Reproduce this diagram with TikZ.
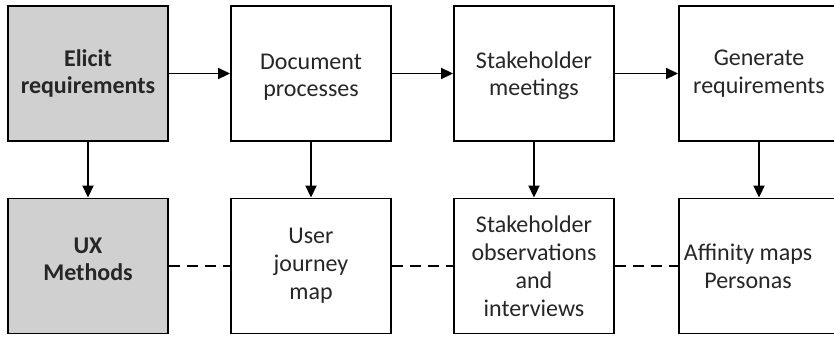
\documentclass[tikz,border=0pt]{standalone}
\usepackage{fontspec}
\setmainfont{Carlito}
\usetikzlibrary{arrows.meta,positioning}
\definecolor{boxgray}{HTML}{D0D0D0}
\tikzset{
  box/.style={draw=black, line width=1.9bp, minimum width=160bp, minimum height=135bp,
    inner sep=0pt, align=center, text=black!85, font=\fontsize{24bp}{28bp}\selectfont},
  graybox/.style={box, fill=boxgray, font=\fontsize{24bp}{27bp}\selectfont\bfseries},
  lbl/.style={align=center, text=black!85, inner sep=0pt},
  arr/.style={line width=1.9bp, -{Triangle[length=12bp,width=11bp]}},
  dashline/.style={line width=1.9bp, dash pattern=on 11bp off 7bp}
}
\begin{document}
\begin{tikzpicture}[x=1bp,y=-1bp]
\useasboundingbox (0,0) rectangle (834,336);
\clip (0,0) rectangle (834,336);
\node[graybox] (elicit) at (88,73.5) {Elicit\\requirements};
\node[box] (doc) at (311,73.5) {};
\node[lbl, font=\fontsize{24bp}{27bp}\selectfont] (doctext) at (311,77) {Document\\processes};
\node[box] (meet) at (534,73.5) {};
\node[lbl, font=\fontsize{24bp}{27bp}\selectfont] (meettext) at (534,76) {Stakeholder\\meetings};
\node[box] (gen) at (759,73.5) {Generate\\requirements};
\node[graybox] (ux) at (88,266) {};
\node[lbl, font=\fontsize{24bp}{27bp}\selectfont\bfseries] (uxtext) at (88,259) {UX\\Methods};
\node[box] (jour) at (311,266) {User\\journey\\map};
\node[box] (obs) at (534,266) {Stakeholder\\observations\\and\\interviews};
\node[box] (aff) at (759,266) {};
\node[lbl, font=\fontsize{24bp}{28bp}\selectfont] (afftext) at (748,266) {Affinity maps\\Personas};
\draw[arr] (elicit) -- (doc);
\draw[arr] (doc) -- (meet);
\draw[arr] (meet) -- (gen);
\draw[arr] (elicit) -- (ux);
\draw[arr] (doc) -- (jour);
\draw[arr] (meet) -- (obs);
\draw[arr] (gen) -- (aff);
\draw[dashline] (ux) -- (jour);
\draw[dashline] (jour) -- (obs);
\draw[dashline] (obs) -- (aff);
\end{tikzpicture}
\end{document}
